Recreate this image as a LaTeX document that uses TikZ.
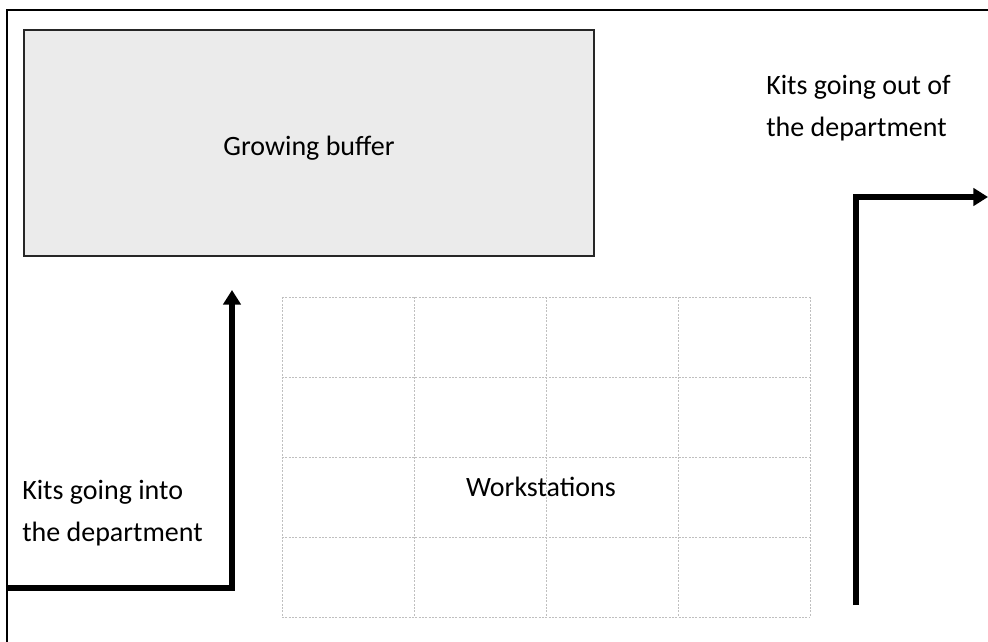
\documentclass[tikz,border=0pt]{standalone}
\usepackage{fontspec}
\setmainfont{Carlito}
\usetikzlibrary{arrows.meta}
\begin{document}
\begin{tikzpicture}[x=0.75pt,y=-0.75pt,
  frame/.style={line width=1.5pt,black},
  bufferbox/.style={draw=black!85,line width=1.6pt,fill=black!8},
  gridline/.style={draw=black!25,line width=0.5pt,dash pattern=on 1.5pt off 1pt},
  flow/.style={line width=3.8pt,-{Triangle[length=11pt,width=13pt]}},
  lbl/.style={font=\fontsize{21}{31.5}\selectfont,align=left,inner sep=0pt,anchor=north west},
  clbl/.style={font=\fontsize{21}{31.5}\selectfont,inner sep=0pt}]
\useasboundingbox (0,0) rectangle (988,642);
\fill[white] (0,0) rectangle (988,642);
% outer frame
\draw[frame] (7,642) -- (7,10) -- (988,10);
% growing buffer
\draw[bufferbox] (24,30) rectangle (594,256);
\node[clbl] (buf) at (309,148) {Growing buffer};
% workstation grid
\foreach \x in {282,414,546,678,810} \draw[gridline] (\x,297) -- (\x,617);
\foreach \y in {297,377,457,537,617} \draw[gridline] (282,\y) -- (810,\y);
\node[clbl] (ws) at (541,487) {Workstations};
% labels
\node[lbl] (inlbl) at (22,480) {Kits going into\\the department};
\node[lbl] (outlbl) at (766,75) {Kits going out of\\the department};
% arrows
\coordinate (inS) at (7,588);
\coordinate (inC) at (232,588);
\coordinate (inE) at (232,290);
\draw[flow] (inS) -- (inC) -- (inE);
\coordinate (outS) at (856,605);
\coordinate (outC) at (856,197);
\coordinate (outE) at (988,197);
\draw[flow] (outS) -- (outC) -- (outE);
\end{tikzpicture}
\end{document}
